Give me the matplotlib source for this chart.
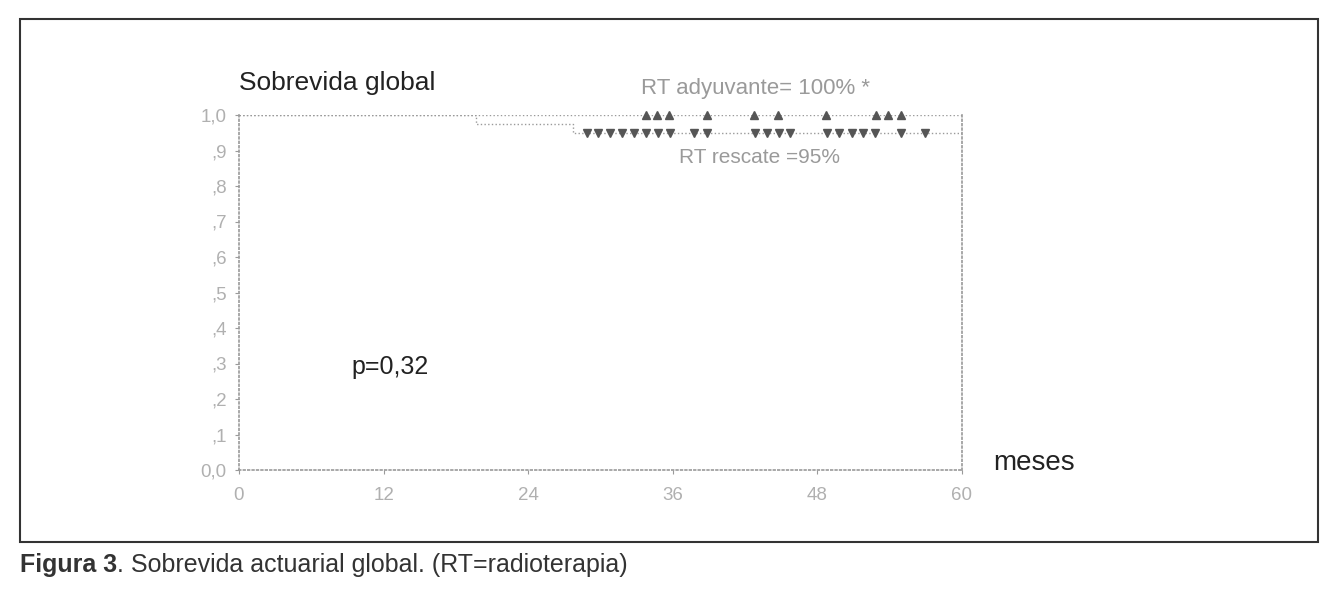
import matplotlib.pyplot as plt
from matplotlib.patches import Rectangle

plt.rcParams['font.family'] = ['Liberation Sans', 'DejaVu Sans']

# curva RT rescate (escalones)
resc_t = [0, 19.7, 27.7, 60]
resc_s = [1.0, 0.975, 0.95, 0.95]
# curva RT adyuvante
ady_t = [0, 60]
ady_s = [1.0, 1.0]

# censurados
ady_cens = [33.8, 34.7, 35.7, 38.8, 42.7, 44.7, 48.7, 52.9, 53.9, 54.9]
resc_cens = [28.9, 29.8, 30.8, 31.8, 32.8, 33.8, 34.8, 35.8, 37.8, 38.8,
             42.8, 43.8, 44.8, 45.7, 48.8, 49.8, 50.9, 51.8, 52.8, 54.9, 56.9]

xticks = [0, 12, 24, 36, 48, 60]
yticks = [0.0, 0.1, 0.2, 0.3, 0.4, 0.5, 0.6, 0.7, 0.8, 0.9, 1.0]
ylabels = ['0,0', ',1', ',2', ',3', ',4', ',5', ',6', ',7', ',8', ',9', '1,0']

gris = '#9a9a9a'
oscuro = '#555555'

fig = plt.figure(figsize=(13.39, 5.95), dpi=100)
fig.patches.append(Rectangle((20/1339, 53/595), 1298/1339, 523/595,
                             transform=fig.transFigure, fill=False,
                             edgecolor='#333333', lw=1.5))

ax = fig.add_axes([239/1339, 125/595, 723/1339, 355/595])
ax.set_xlim(0, 60)
ax.set_ylim(0, 1.0)

ax.plot(ady_t, ady_s, color=gris, lw=1, ls=':')
ax.step(resc_t, resc_s, where='post', color=gris, lw=1, ls=':')
ax.plot(ady_cens, [1.0]*len(ady_cens), ls='none', marker='^', ms=5.5,
        color=oscuro, clip_on=False)
ax.plot(resc_cens, [0.95]*len(resc_cens), ls='none', marker='v', ms=5.5,
        color=oscuro, clip_on=False)

for s in ['left', 'bottom', 'right']:
    ax.spines[s].set_color(gris)
    ax.spines[s].set_linestyle(':')
    ax.spines[s].set_linewidth(1.2)
ax.spines['top'].set_visible(False)

ax.set_xticks(xticks)
ax.set_xticklabels([str(v) for v in xticks])
ax.set_yticks(yticks)
ax.set_yticklabels(ylabels)
ax.tick_params(colors=gris, labelcolor='#b0b0b0', labelsize=13.5, length=3)
ax.tick_params(axis='y', pad=6)
ax.tick_params(axis='x', pad=9)

ax.text(0, 1.09, 'Sobrevida global', fontsize=19, color='#222222',
        ha='left', va='center', clip_on=False)
ax.text(33.4, 1.075, 'RT adyuvante= 100% *', fontsize=16, color=gris,
        ha='left', va='center', clip_on=False)
ax.text(36.5, 0.88, 'RT rescate =95%', fontsize=15, color=gris,
        ha='left', va='center')
ax.text(9.3, 0.29, 'p=0,32', fontsize=18, color='#222222',
        ha='left', va='center')
ax.text(62.6, 0.02, 'meses', fontsize=20, color='#222222',
        ha='left', va='center', clip_on=False)

t1 = fig.text(20/1339, 1 - 565/595, 'Figura 3', fontsize=18, weight='bold',
              color='#333333', ha='left', va='center')
ax.annotate('. Sobrevida actuarial global. (RT=radioterapia)',
            xy=(1, 0.5), xycoords=t1, fontsize=18, color='#333333',
            ha='left', va='center', annotation_clip=False)

fig.savefig('out.png', dpi=100)
